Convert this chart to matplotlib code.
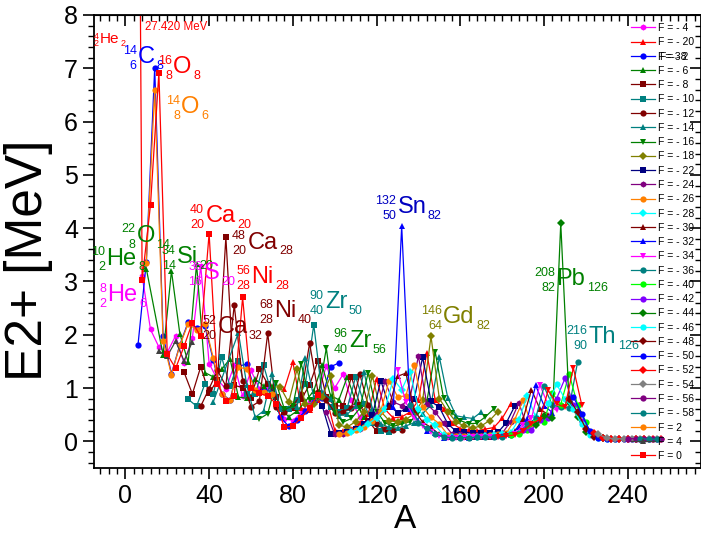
import numpy as np
import matplotlib
matplotlib.use('Agg')
import matplotlib.pyplot as plt
from matplotlib.ticker import MultipleLocator

plt.rcParams['font.family'] = ['Liberation Sans', 'DejaVu Sans']

# E2+ energies (MeV) along chains of constant F = Z - N.
# first mass number of each chain, then one value every 4 mass units (None = no data)
a0_p4 = 16
e_p4 = [1.69, 1.60, 1.88, 1.51, 1.87]
a0_p2 = 10
e_p2 = [3.35, 6.59, 1.89, 1.25, 1.80, 2.21, 2.09, 2.21, 1.56, 0.89, 0.77, 1.39,
        1.36, 0.96, 0.93, 0.88]
a0_0 = 4
e_0 = [27.42, 3.03, 4.44, 6.92, 1.63, 1.37, 1.78, 2.23, 1.97, 3.90, 1.08, 0.75,
       0.85, 2.70, 1.00, 0.90, 0.85, 0.71, 0.26, 0.29, 0.44, 0.62, 0.87]
a0_m2 = 6
e_m2 = [1.80, 3.37, 7.01, 1.98, 1.27, 1.81, 2.24, 2.13, 2.17, 1.52, 0.89, 0.78,
        1.41, 1.45, 0.95, 0.96, 0.94, 0.46, 0.28, 0.41, 0.57, 0.74, 0.81, 1.40, 1.47]
a0_m4 = 8
e_m4 = [3.10, 2.10, 1.77, 1.67, 1.98, 1.47, 1.94, 3.29, 1.46, 1.16, 0.98, 1.43,
        0.85, 1.33, 0.99, 1.02, 0.86, 0.42, 0.39, 0.54, 0.74, 0.87, 1.42, 1.00,
        1.26, 0.77, 0.45]
a0_m6 = 10
e_m6 = [3.24, None, 1.62, 3.20, 2.02, 1.48, 3.33, 1.29, 1.21, 1.35, 1.55, 0.83,
        0.81, 1.17, 1.04, 1.04, 0.63, 0.46, 0.57, 0.75, 0.95, 1.43, 0.86, 0.78,
        1.21, 0.74, 0.45]
a0_m8 = 28
e_m8 = [1.30, 0.89, 1.40, 0.90, 1.16, 3.83, 1.05, 1.01, 0.82, 1.35, 1.08, 0.83,
        0.56, 0.62, 0.79, 1.06, 1.51, 0.83, 0.67, 0.66, 1.21, 0.69, 0.39, 0.19]
a0_m10 = 30
e_m10 = [0.79, 0.66, 1.08, 0.89, 1.58, 1.03, 1.50, 0.88, 0.88, 1.43, 0.88, 0.60,
         0.61, 0.78, 1.08, 2.19, 0.87, 0.65, 0.56, 0.63, 1.21, 0.71, 0.34, 0.20,
         0.17]
a0_m12 = 36
e_m12 = [0.66, 0.99, 1.33, 1.04, 2.56, 1.13, 0.65, 0.75, 2.03, 0.65, 0.56, 0.67,
         0.88, 1.84, 0.93, 0.78, 0.54, 0.56, 0.63, 1.26, 0.68, 0.32, 0.23, 0.21,
         0.21]
a0_m14 = 42
e_m14 = [0.74, None, None, 2.04, 1.05, 0.45, 0.57, 1.26, 0.61, 0.62, 0.65, 1.56,
         0.83, 0.92, 0.79, 0.48, 0.51, 0.66, 1.30, 0.61, 0.33, 0.26, 0.25, 0.29,
         0.35, 0.52, 0.68, 1.58, 0.82, 0.48, 0.45, 0.43, 0.55]
a0_m16 = 64
e_m16 = [0.42, 0.52, 1.10, 0.60, 0.66, 1.46, 0.78, 0.82, 1.75, 0.54, 0.36, 0.43,
         0.62, 1.29, 0.56, 0.35, 0.28, 0.33, 0.37, 0.53, 0.74, 1.68, 0.81, 0.54,
         0.39, 0.33, 0.34, 0.46, 0.61]
a0_m18 = 74
e_m18 = [1.02, 0.73, 1.35, 0.70, 0.71, 0.84, 1.22, 0.30, 0.27, 0.37, 0.56, 1.23,
         0.56, 0.39, 0.36, 0.41, 0.52, 0.77, 1.97, 0.80, 0.56, 0.36, 0.29, 0.25,
         0.29, 0.39, 0.56]
a0_m20 = 76
e_m20 = [0.99, 1.49, 0.62, 0.59, 0.77, 0.82, 0.21, 0.19, 0.24, 0.35, 0.51, 1.17,
         0.60, 0.44, 0.46, 0.55, 0.77, 1.66, 0.78, 0.61, 0.34, 0.24, 0.21, 0.20,
         0.23, 0.26, 0.43, 0.70]
a0_m22 = 94
e_m22 = [0.67, 0.14, 0.15, 0.17, 0.24, 0.33, 0.49, 1.14, 0.67, 0.54, 0.60, 0.79,
         1.58, 0.75, 0.64, 0.33, 0.19, 0.17, 0.16, 0.16, 0.16, 0.17, 0.35, 0.66]
a0_m24 = 96
e_m24 = [0.55, 0.13, 0.14, 0.19, 0.24, 0.34, 0.51, 1.13, 0.74, 0.67, 0.82, 1.60,
         0.70, 0.55, 0.34, 0.14, 0.13, 0.12, 0.12, 0.12, 0.14, 0.15, 0.37, 0.72,
         0.26]
a0_m26 = 102
e_m26 = [0.13, 0.15, 0.21, 0.27, 0.38, 0.57, 1.14, 0.84, 0.85, 1.44, 0.64, 0.45,
         0.33, 0.12, 0.10, 0.10, 0.10, 0.10, 0.11, 0.13, 0.15, 0.41, 0.77, 0.32]
a0_m28 = 108
e_m28 = [0.17, 0.24, 0.33, 0.44, 0.61, 1.17, 0.97, 1.31, 0.60, 0.40, 0.30, 0.12,
         0.09, 0.09, 0.09, 0.09, 0.10, 0.11, 0.13, 0.16, 0.41, 0.85, 0.46, 0.43]
a0_m30 = 126
e_m30 = [0.65, 1.22, 1.28, 0.59, 0.36, 0.26, 0.13, 0.08, 0.08, 0.08, 0.08, 0.08,
         0.09, 0.11, 0.13, 0.19, 0.42, 0.97, 0.61, 0.50]
a0_m32 = 128
e_m32 = [0.65, 4.04, 0.61, 0.38, 0.20, 0.16, 0.07, 0.08, 0.08, 0.07, 0.08, 0.08,
         0.09, 0.10, 0.12, 0.27, 0.42, 1.05, 0.67, 0.54]
a0_m34 = 130
e_m34 = [1.33, 0.73, 0.44, 0.29, 0.18, 0.10, 0.07, 0.07, 0.07, 0.08, 0.08, 0.08,
         0.09, 0.10, 0.14, 0.30, 0.43, 1.06, 0.68, 0.58]
a0_m36 = 136
e_m36 = [0.68, 0.35, 0.25, 0.14, 0.08, 0.07, 0.07, 0.07, 0.08, 0.08, 0.08, 0.09,
         0.11, 0.16, 0.32, 0.43, 1.03, 0.68, 0.64, 0.63, 1.48]
a0_m38 = 178
e_m38 = [0.08, 0.10, 0.12, 0.19, 0.33, 0.41, 0.96, 0.70, 0.64, 1.38, 0.69]
a0_m40 = 184
e_m40 = [0.11, 0.14, 0.21, 0.36, 0.37, 0.90, 0.69, 1.27, 0.69, 0.37]
a0_m42 = 190
e_m42 = [0.21, 0.22, 0.41, 0.44, 0.80, 1.18, 0.69, 0.39, 0.18, 0.08]
a0_m44 = 196
e_m44 = [0.30, 0.47, 0.44, 4.09, 0.73, 0.46, 0.18, 0.10, 0.06]
a0_m46 = 202
e_m46 = [0.72, 1.07, 0.80, 0.61, 0.32, 0.11, 0.07, 0.05, 0.05]
a0_m48 = 212
e_m48 = [0.80, 0.55, 0.24, 0.08, 0.06, 0.05, 0.05, 0.04, 0.04, 0.04]
a0_m50 = 214
e_m50 = [0.84, 0.51, 0.19, 0.07, 0.05, 0.04, 0.04, 0.04, 0.04, 0.04, 0.04]
a0_m52 = 224
e_m52 = [0.16, 0.06, 0.05, 0.05, 0.04, 0.04, 0.04, 0.05, 0.04]
a0_m54 = 226
e_m54 = [0.13, 0.06, 0.05, 0.05, 0.05, 0.04, 0.04, 0.05]
a0_m56 = 240
e_m56 = [0.05, 0.05, 0.04, 0.05, 0.05]
a0_m58 = 246
e_m58 = [0.05, 0.04, 0.04]

# label, start, values, colour, marker  (in legend order)
series = [
    ('F = - 4', a0_m4, e_m4, '#ff00ff', 'h'),
    ('F = - 20', a0_m20, e_m20, '#ff0000', '^'),
    ('F = - 2', a0_m2, e_m2, '#0000ff', 'o'),
    ('F = - 6', a0_m6, e_m6, '#008000', '^'),
    ('F = - 8', a0_m8, e_m8, '#800000', 's'),
    ('F = - 10', a0_m10, e_m10, '#008080', 's'),
    ('F = - 12', a0_m12, e_m12, '#800000', 'o'),
    ('F = - 14', a0_m14, e_m14, '#008080', '^'),
    ('F = - 16', a0_m16, e_m16, '#008000', 'v'),
    ('F = - 18', a0_m18, e_m18, '#808000', 'D'),
    ('F = - 22', a0_m22, e_m22, '#000080', 's'),
    ('F = - 24', a0_m24, e_m24, '#800080', 'h'),
    ('F = - 26', a0_m26, e_m26, '#ff8000', 'o'),
    ('F = - 28', a0_m28, e_m28, '#00ffff', 'D'),
    ('F = - 30', a0_m30, e_m30, '#800000', '^'),
    ('F = - 32', a0_m32, e_m32, '#0000ff', '^'),
    ('F = - 34', a0_m34, e_m34, '#ff00ff', 'v'),
    ('F = - 36', a0_m36, e_m36, '#008080', 'o'),
    ('F = - 40', a0_m40, e_m40, '#00ff00', 'o'),
    ('F = - 42', a0_m42, e_m42, '#8000ff', 'o'),
    ('F = - 44', a0_m44, e_m44, '#008000', 'D'),
    ('F = - 46', a0_m46, e_m46, '#00ffff', 'o'),
    ('F = - 48', a0_m48, e_m48, '#800000', 'D'),
    ('F = - 50', a0_m50, e_m50, '#0000ff', 'o'),
    ('F = - 52', a0_m52, e_m52, '#ff0000', 'D'),
    ('F = - 54', a0_m54, e_m54, '#808080', 'D'),
    ('F = - 56', a0_m56, e_m56, '#800080', 'o'),
    ('F = - 58', a0_m58, e_m58, '#008080', 'o'),
    ('F = 2', a0_p2, e_p2, '#ff8000', 'o'),
    ('F = 4', a0_p4, e_p4, '#404040', '^'),
    ('F = 0', a0_0, e_0, '#ff0000', 's'),
]
extra = ('F = - 38', a0_m38, e_m38, '#ff0000', 'v')


def nuclide(ax, x, y, sym, a, z, n, color, size=17, small=9):
    t = ax.text(x, y, sym, fontsize=size, color=color, ha='center', va='center')
    kw = dict(textcoords='offset points', fontsize=small, color=color, va='center')
    ax.annotate(a, xy=(0, 1), xycoords=t, xytext=(-1, -3.5), ha='right', **kw)
    ax.annotate(z, xy=(0, 0), xycoords=t, xytext=(-1, 1.5), ha='right', **kw)
    ax.annotate(n, xy=(1, 0), xycoords=t, xytext=(1, 1.5), ha='left', **kw)


def main():
    fig = plt.figure(figsize=(7.01, 5.41), dpi=100)
    ax = fig.add_axes([94 / 701, 73 / 541, 607 / 701, 453 / 541])

    handles = []
    for label, a0, vals, c, m in series + [extra]:
        xs = [a0 + 4 * i for i, v in enumerate(vals) if v is not None]
        ys = [v for v in vals if v is not None]
        line, = ax.plot(xs, ys, color=c, marker=m, ms=4.5, mew=0, lw=0.9, label=label)
        handles.append(line)

    ax.set_xlim(-15, 275)
    ax.set_ylim(-0.5, 8)
    ax.xaxis.set_major_locator(MultipleLocator(40))
    ax.xaxis.set_minor_locator(MultipleLocator(4))
    ax.yaxis.set_major_locator(MultipleLocator(1))
    ax.yaxis.set_minor_locator(MultipleLocator(0.2))
    ax.tick_params(which='major', direction='out', length=8, width=1.2, labelsize=18)
    ax.tick_params(which='minor', direction='out', length=4, width=1.0)
    for s in ax.spines.values():
        s.set_linewidth(1.3)

    secx = ax.secondary_xaxis('top')
    secx.xaxis.set_major_locator(MultipleLocator(40))
    secx.xaxis.set_minor_locator(MultipleLocator(4))
    secx.tick_params(which='major', direction='in', length=8, width=1.2, labeltop=False)
    secx.tick_params(which='minor', direction='in', length=4, width=1.0)
    secy = ax.secondary_yaxis('right')
    secy.yaxis.set_major_locator(MultipleLocator(1))
    secy.yaxis.set_minor_locator(MultipleLocator(0.2))
    secy.tick_params(which='major', direction='in', length=8, width=1.2, labelright=False)
    secy.tick_params(which='minor', direction='in', length=4, width=1.0)

    fig.text(405 / 701, 1 - 520 / 541, 'A', fontsize=24, ha='center', va='center')
    fig.text(29 / 701, 1 - 260 / 541, 'E2+ [MeV]', fontsize=37, rotation=90,
             ha='center', va='center')

    # nucleus labels
    nuclide(ax, -7.4, 7.55, 'He', '4', '2', '2', '#ff0000', 11, 6.5)
    nuclide(ax, 10.2, 7.21, 'C', '14', '6', '8', '#0000ff')
    nuclide(ax, 27.3, 7.02, 'O', '16', '8', '8', '#ff0000')
    nuclide(ax, 31.1, 6.27, 'O', '14', '8', '6', '#ff8000')
    nuclide(ax, 9.7, 3.86, 'O', '22', '8', '14', '#008000')
    nuclide(ax, -1.8, 3.43, 'He', '10', '2', '8', '#008000')
    nuclide(ax, -1.3, 2.75, 'He', '8', '2', '6', '#ff00ff')
    nuclide(ax, 29.7, 3.46, 'Si', '34', '14', '20', '#008000')
    nuclide(ax, 41.2, 3.15, 'S', '36', '16', '20', '#ff00ff')
    nuclide(ax, 45.4, 4.23, 'Ca', '40', '20', '20', '#ff0000')
    nuclide(ax, 65.5, 3.73, 'Ca', '48', '20', '28', '#800000')
    nuclide(ax, 65.5, 3.09, 'Ni', '56', '28', '28', '#ff0000')
    nuclide(ax, 76.4, 2.45, 'Ni', '68', '28', '40', '#800000')
    nuclide(ax, 51.2, 2.15, 'Ca', '52', '20', '32', '#800000')
    nuclide(ax, 100.7, 2.62, 'Zr', '90', '40', '50', '#008080')
    nuclide(ax, 112.2, 1.89, 'Zr', '96', '40', '56', '#008000')
    nuclide(ax, 137.0, 4.40, 'Sn', '132', '50', '82', '#0000c0')
    nuclide(ax, 159.4, 2.34, 'Gd', '146', '64', '82', '#808000')
    nuclide(ax, 212.8, 3.05, 'Pb', '208', '82', '126', '#008000')
    nuclide(ax, 228.0, 1.95, 'Th', '216', '90', '126', '#008080')
    ax.text(9.2, 7.77, '27.420 MeV', fontsize=8.3, color='#ff0000', ha='left', va='center')

    leg = fig.legend(handles[:-1], [s[0] for s in series], loc='upper left',
                     bbox_to_anchor=(631 / 701, 1 - 23 / 541), frameon=False,
                     fontsize=7.5, handlelength=2.3, handletextpad=0.3,
                     labelspacing=0.41, borderpad=0, borderaxespad=0)
    fig.canvas.draw()
    bb = leg.get_texts()[2].get_window_extent()
    fig.text(bb.x0 + 1, bb.y0, 'F=-38', fontsize=7.5, transform=None,
             ha='left', va='bottom')

    fig.savefig('out.png', dpi=100)


if __name__ == '__main__':
    main()
